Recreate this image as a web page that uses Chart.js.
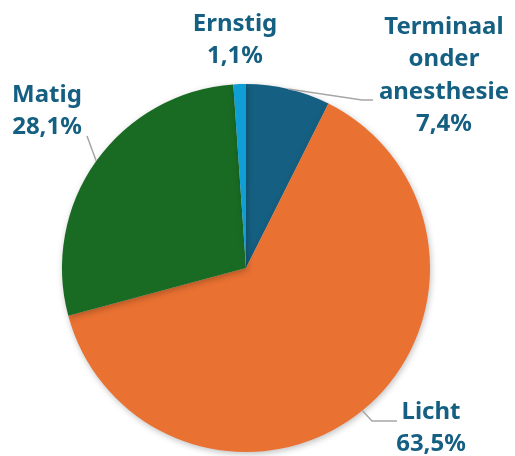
<!DOCTYPE html>
<html>
<head>
<meta charset="utf-8">
<script src="https://cdn.jsdelivr.net/npm/chart.js@4.4.1/dist/chart.umd.min.js"></script>
<style>
  html, body { margin: 0; padding: 0; background: #fff; }
  #wrap { width: 515px; height: 456px; }
</style>
</head>
<body>
<div id="wrap"><canvas id="pieChart" width="515" height="456"></canvas></div>
<script>
const categories = ["Terminaal onder anesthesie", "Licht", "Matig", "Ernstig"];
const percentages = [7.4, 63.5, 28.1, 1.1];
const labelLines = [["Terminaal", "onder", "anesthesie", "7,4%"], ["Licht", "63,5%"], ["Matig", "28,1%"], ["Ernstig", "1,1%"]];
const sliceColors = ["#156082", "#E97132", "#196B24", "#0F9ED5"];

// where each label block sits (center x, first line middle y) and its leader line bend
const labelSpots = [
    { x: 444, y: 27, bend: [362, 100], end: [373, 100] },
    { x: 431, y: 412, bend: [372, 421], end: [397, 421] },
    { x: 47, y: 95, bend: [87, 136], end: null },
    { x: 235, y: 24, bend: null, end: null }
];

const outsideLabels = {
    id: "outsideLabels",
    afterDatasetsDraw(chart) {
        const ctx = chart.ctx;
        const arcs = chart.getDatasetMeta(0).data;
        ctx.save();
        arcs.forEach((arc, i) => {
            const spot = labelSpots[i];
            if (spot.bend) {
                const mid = (arc.startAngle + arc.endAngle) / 2;
                const sx = arc.x + Math.cos(mid) * arc.outerRadius;
                const sy = arc.y + Math.sin(mid) * arc.outerRadius;
                ctx.strokeStyle = "#A6A6A6";
                ctx.lineWidth = 1.5;
                ctx.beginPath();
                ctx.moveTo(sx, sy);
                ctx.lineTo(spot.bend[0], spot.bend[1]);
                if (spot.end) ctx.lineTo(spot.end[0], spot.end[1]);
                ctx.stroke();
            }
            ctx.fillStyle = "#156082";
            ctx.font = "bold 24px 'Noto Sans'";
            ctx.textAlign = "center";
            ctx.textBaseline = "middle";
            labelLines[i].forEach((line, k) => {
                ctx.fillText(line, spot.x, spot.y + k * 32.5);
            });
        });
        ctx.restore();
    }
};

const pieShadow = {
    id: "pieShadow",
    beforeDatasetsDraw(chart) {
        const ctx = chart.ctx;
        ctx.save();
        ctx.shadowColor = "rgba(0,0,0,0.25)";
        ctx.shadowBlur = 6;
        ctx.shadowOffsetX = 1;
        ctx.shadowOffsetY = 2;
    },
    afterDatasetsDraw(chart) {
        chart.ctx.restore();
    }
};

new Chart(document.getElementById("pieChart").getContext("2d"), {
    type: "pie",
    data: {
        labels: categories,
        datasets: [{
            data: percentages,
            backgroundColor: sliceColors,
            borderWidth: 0
        }]
    },
    options: {
        responsive: false,
        animation: false,
        layout: { padding: { top: 84, bottom: 4, left: 62, right: 85 } },
        plugins: {
            legend: { display: false },
            tooltip: { enabled: false }
        }
    },
    plugins: [pieShadow, outsideLabels]
});
</script>
</body>
</html>
